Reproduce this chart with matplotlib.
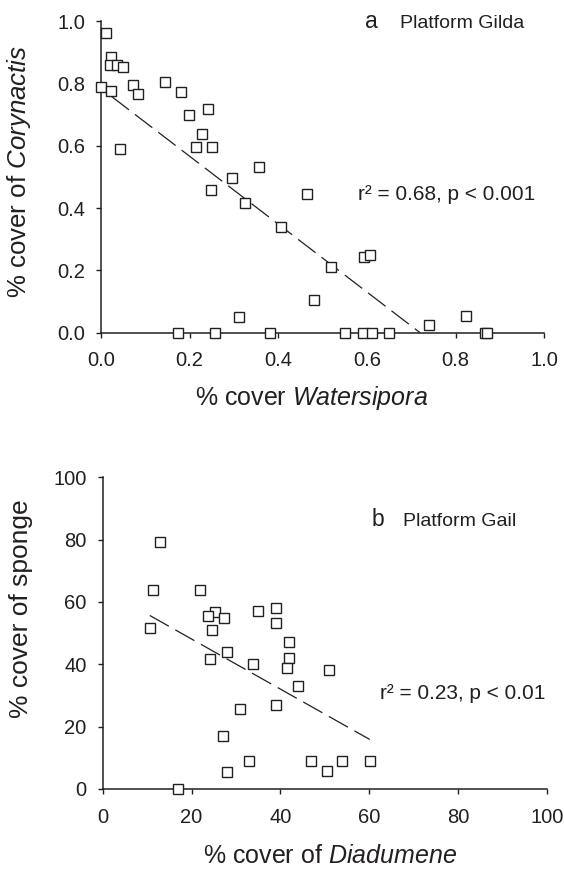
import numpy as np
import matplotlib
matplotlib.use("Agg")
import matplotlib.pyplot as plt

plt.rcParams['font.family'] = ['Liberation Sans', 'DejaVu Sans']
plt.rcParams['mathtext.fontset'] = 'custom'
plt.rcParams['mathtext.rm'] = 'Liberation Sans'
plt.rcParams['mathtext.it'] = 'Liberation Sans:italic'

INK = '#231f20'

# Panel a - Platform Gilda (proportion cover)
gilda_watersipora = [0.011, 0.022, 0.020, 0.037, 0.050, 0.000, 0.022, 0.072, 0.083,
                     0.144, 0.180, 0.198, 0.242, 0.229, 0.214, 0.250, 0.042, 0.357,
                     0.295, 0.248, 0.465, 0.326, 0.406, 0.593, 0.608, 0.519, 0.480,
                     0.311, 0.823, 0.739,
                     0.174, 0.258, 0.381, 0.550, 0.590, 0.611, 0.650, 0.866, 0.870]
gilda_corynactis = [0.961, 0.883, 0.858, 0.858, 0.852, 0.788, 0.775, 0.795, 0.766,
                    0.806, 0.772, 0.700, 0.718, 0.637, 0.595, 0.596, 0.591, 0.533,
                    0.497, 0.459, 0.446, 0.417, 0.339, 0.243, 0.248, 0.211, 0.104,
                    0.051, 0.055, 0.024,
                    0.0, 0.0, 0.0, 0.0, 0.0, 0.0, 0.0, 0.0, 0.0]
gilda_fit = {'intercept': 0.784, 'slope': -1.089, 'x_range': (0.024, 0.720)}
gilda_stats = 'r\u00b2 = 0.68, p < 0.001'

# Panel b - Platform Gail (% cover)
gail_diadumene = [13.0, 11.4, 22.0, 25.3, 23.8, 27.4, 35.0, 39.0, 39.0, 10.6,
                  24.7, 41.9, 41.9, 41.4, 27.9, 24.1, 33.9, 50.9, 43.9, 38.9,
                  30.9, 27.0, 33.0, 28.0, 46.9, 50.5, 53.9, 60.1, 17.0]
gail_sponge = [79.4, 63.9, 63.9, 56.9, 55.6, 55.0, 57.2, 58.2, 53.2, 51.8,
               50.9, 47.1, 42.1, 38.8, 44.1, 41.6, 40.1, 38.2, 33.2, 27.1,
               25.8, 17.0, 9.0, 5.4, 9.0, 5.7, 9.0, 9.0, 0.0]
gail_fit = {'intercept': 64.2, 'slope': -0.804, 'x_range': (10.6, 60.1)}
gail_stats = 'r\u00b2 = 0.23, p < 0.01'


def style_axes(ax, lim, ticks, fmt):
    for side in ['top', 'right']:
        ax.spines[side].set_visible(False)
    for side in ['left', 'bottom']:
        ax.spines[side].set_linewidth(1.1)
        ax.spines[side].set_color(INK)
    ax.set_xlim(*lim)
    ax.set_ylim(*lim)
    ax.set_xticks(ticks)
    ax.set_yticks(ticks)
    ax.set_xticklabels([fmt.format(t) for t in ticks])
    ax.set_yticklabels([fmt.format(t) for t in ticks])
    ax.tick_params(direction='out', length=3.5, width=1.0, color=INK,
                   labelcolor=INK, labelsize=14.5)
    ax.tick_params(axis='x', pad=10)
    ax.tick_params(axis='y', pad=8)


def draw_panel(ax, x, y, fit):
    ax.plot(x, y, linestyle='none', marker='s', markersize=7.3,
            markerfacecolor='white', markeredgecolor=INK, markeredgewidth=1.0,
            clip_on=False, zorder=5)
    fx = np.array(fit['x_range'])
    fy = fit['intercept'] + fit['slope'] * fx
    ax.plot(fx, fy, color=INK, linewidth=0.9, dashes=(17.5, 6), zorder=3)


fig = plt.figure(figsize=(5.64, 8.69), dpi=100)
ax1 = fig.add_axes([0.179, 0.6171, 0.786, 0.3587])
ax2 = fig.add_axes([0.182, 0.0921, 0.788, 0.3586])

# top panel
style_axes(ax1, (0, 1), np.arange(0, 1.01, 0.2), '{:.1f}')
draw_panel(ax1, gilda_watersipora, gilda_corynactis, gilda_fit)
ax1.set_xlabel('% cover $\\mathit{Watersipora}$', fontsize=18, color=INK)
ax1.set_ylabel('% cover of $\\mathit{Corynactis}$', fontsize=18.6, color=INK)
ax1.xaxis.set_label_coords(0.475, -0.165)
ax1.yaxis.set_label_coords(-0.153, 0.517)
ax1.text(0.596, 0.978, 'a', fontsize=16.5, color=INK, ha='left', va='baseline')
ax1.text(0.674, 0.978, 'Platform Gilda', fontsize=14, color=INK, ha='left', va='baseline')
ax1.text(0.580, 0.426, gilda_stats, fontsize=15, color=INK, ha='left', va='baseline')

# bottom panel
style_axes(ax2, (0, 100), np.arange(0, 101, 20), '{:.0f}')
draw_panel(ax2, gail_diadumene, gail_sponge, gail_fit)
ax2.set_xlabel('% cover of $\\mathit{Diadumene}$', fontsize=18, color=INK)
ax2.set_ylabel('% cover of sponge', fontsize=19, color=INK)
ax2.xaxis.set_label_coords(0.511, -0.178)
ax2.yaxis.set_label_coords(-0.157, 0.58)
ax2.text(60.6, 84.4, 'b', fontsize=16.5, color=INK, ha='left', va='baseline')
ax2.text(67.6, 84.4, 'Platform Gail', fontsize=14, color=INK, ha='left', va='baseline')
ax2.text(62.4, 28.9, gail_stats, fontsize=15, color=INK, ha='left', va='baseline')

fig.savefig('out.png', dpi=100)
